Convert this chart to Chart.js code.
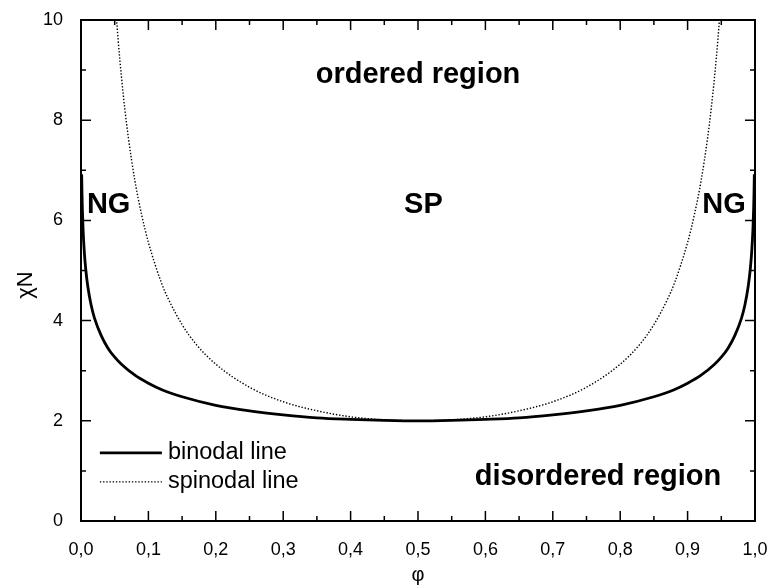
<!DOCTYPE html>
<html>
<head>
<meta charset="utf-8">
<script src="https://cdn.jsdelivr.net/npm/chart.js@4.4.1/dist/chart.umd.min.js"></script>
<style>
html,body{margin:0;padding:0;background:#fff;}
#wrap{width:769px;height:587px;position:relative;}
</style>
</head>
<body>
<div id="wrap"><canvas id="c" width="769" height="587"></canvas></div>
<script>
// ---- data ----
const binodalPhi = [0.001,0.0015,0.002,0.003,0.005,0.007,0.01,0.015,0.02,0.03,0.04,0.05,0.06,0.08,0.1,0.12,0.15,0.2,0.25,0.3,0.35,0.4,0.45,0.5,
  0.55,0.6,0.65,0.7,0.75,0.8,0.85,0.88,0.9,0.92,0.94,0.95,0.96,0.97,0.98,0.985,0.99,0.993,0.995,0.997,0.998,0.9985,0.999];
const binodalChiN = [6.92,6.52,6.24,5.84,5.35,5.03,4.69,4.31,4.05,3.70,3.45,3.27,3.13,2.91,2.75,2.62,2.48,2.31,2.20,2.12,2.06,2.03,2.01,2.00,
  2.01,2.03,2.06,2.12,2.20,2.31,2.48,2.62,2.75,2.91,3.13,3.27,3.45,3.70,4.05,4.31,4.69,5.03,5.35,5.84,6.24,6.52,6.92];
const spinodalPhi = [0.05,0.055,0.06,0.065,0.07,0.08,0.09,0.1,0.12,0.13,0.15,0.17,0.2,0.25,0.3,0.35,0.4,0.45,0.5,
  0.55,0.6,0.65,0.7,0.75,0.8,0.83,0.85,0.87,0.88,0.9,0.91,0.92,0.93,0.935,0.94,0.945,0.95];
const spinodalChiN = [10.53,9.62,8.87,8.23,7.68,6.79,6.11,5.56,4.73,4.42,3.92,3.54,3.13,2.67,2.38,2.20,2.08,2.02,2.00,
  2.02,2.08,2.20,2.38,2.67,3.13,3.54,3.92,4.42,4.73,5.56,6.11,6.79,7.68,8.23,8.87,9.62,10.53];
const xTickValues = [0,0.1,0.2,0.3,0.4,0.5,0.6,0.7,0.8,0.9,1.0];
const yTickValues = [0,2,4,6,8,10];
const seriesNames = ['binodal line','spinodal line'];
const regionLabels = [
  {text:'ordered region', x:0.5, y:8.9},
  {text:'SP', x:0.508, y:6.3},
  {text:'NG', x:0.041, y:6.3},
  {text:'NG', x:0.954, y:6.3},
  {text:'disordered region', x:0.767, y:0.87}
];

const FONT = '"Liberation Sans", Arial, Helvetica, sans-serif';
const toPts = (xs, ys) => xs.map((x,i)=>({x:x, y:ys[i]}));

const framePlugin = {
  id:'frame',
  afterDatasetsDraw(chart){
    const {ctx, chartArea:a, scales:{x, y}} = chart;
    ctx.save();
    ctx.strokeStyle = '#000';
    ctx.lineWidth = 2;
    ctx.strokeRect(a.left, a.top, a.right-a.left, a.bottom-a.top);
    ctx.lineWidth = 1.5;
    ctx.beginPath();
    for (let i=0;i<=20;i++){
      const v=i*0.05, px=x.getPixelForValue(v), len=(i%2===0)?10:5;
      ctx.moveTo(px,a.bottom); ctx.lineTo(px,a.bottom-len);
      ctx.moveTo(px,a.top); ctx.lineTo(px,a.top+len);
    }
    for (let i=0;i<=10;i++){
      const py=y.getPixelForValue(i), len=(i%2===0)?10:5;
      ctx.moveTo(a.left,py); ctx.lineTo(a.left+len,py);
      ctx.moveTo(a.right,py); ctx.lineTo(a.right-len,py);
    }
    ctx.stroke();

    // region labels
    ctx.fillStyle='#000';
    ctx.font = 'bold 29px '+FONT;
    ctx.textAlign='center'; ctx.textBaseline='middle';
    regionLabels.forEach(l=>{
      ctx.fillText(l.text, x.getPixelForValue(l.x), y.getPixelForValue(l.y));
    });

    // legend
    const ds = chart.data.datasets;
    const lx0 = x.getPixelForValue(0.028), lx1 = x.getPixelForValue(0.12);
    const ly = [y.getPixelForValue(1.36), y.getPixelForValue(0.78)];
    ds.forEach((d,i)=>{
      ctx.beginPath();
      ctx.lineWidth = d.borderWidth;
      ctx.setLineDash(d.borderDash||[]);
      ctx.moveTo(lx0, ly[i]); ctx.lineTo(lx1, ly[i]);
      ctx.stroke();
      ctx.setLineDash([]);
      ctx.font = '23.5px '+FONT;
      ctx.textAlign='left'; ctx.textBaseline='middle';
      ctx.fillText(d.label, lx1+6, ly[i]);
    });

    // axis titles
    ctx.font = '20px '+FONT;
    ctx.textAlign='center'; ctx.textBaseline='middle';
    ctx.fillText('φ', (a.left+a.right)/2, 575);
    ctx.save();
    ctx.translate(26, 285);
    ctx.rotate(-Math.PI/2);
    ctx.font = '22px '+FONT;
    ctx.fillText('χN', 0, 0);
    ctx.restore();
    ctx.restore();
  }
};

new Chart(document.getElementById('c'), {
  type:'line',
  data:{
    datasets:[
      {label:seriesNames[0], data:toPts(binodalPhi,binodalChiN), borderColor:'#000', borderWidth:2.8,
       pointRadius:0, cubicInterpolationMode:'monotone', fill:false},
      {label:seriesNames[1], data:toPts(spinodalPhi,spinodalChiN), borderColor:'#000', borderWidth:1.4,
       borderDash:[1.4,1.8], pointRadius:0, cubicInterpolationMode:'monotone', fill:false}
    ]
  },
  options:{
    responsive:false, animation:false, devicePixelRatio:1,
    layout:{padding:{top:20,right:14,left:0,bottom:0}},
    plugins:{legend:{display:false}, tooltip:{enabled:false}},
    scales:{
      x:{type:'linear', min:0, max:1,
        afterBuildTicks(s){ s.ticks = xTickValues.map(v=>({value:v})); },
        afterFit(s){ s.height = 66; s.paddingLeft = 0; s.paddingRight = 0; },
        grid:{display:false}, border:{display:false},
        ticks:{color:'#000', padding:10, font:{family:FONT,size:18},
          callback:(v)=>Number(v).toFixed(1).replace('.',',')}},
      y:{type:'linear', min:0, max:10,
        afterBuildTicks(s){ s.ticks = yTickValues.map(v=>({value:v})); },
        afterFit(s){ s.width = 81; s.paddingTop = 0; s.paddingBottom = 0; },
        grid:{display:false}, border:{display:false},
        ticks:{color:'#000', padding:10, font:{family:FONT,size:18},
          callback:(v)=>String(v)}}
    }
  },
  plugins:[framePlugin]
});
</script>
</body>
</html>
